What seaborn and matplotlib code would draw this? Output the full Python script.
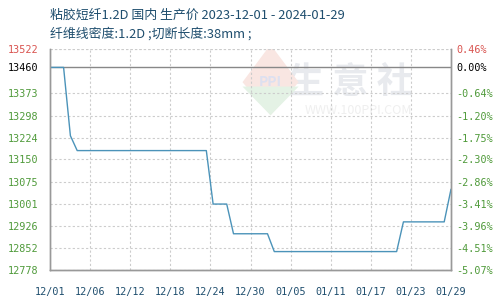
import matplotlib
matplotlib.use("Agg")
import matplotlib.pyplot as plt
import numpy as np
import pandas as pd
import seaborn as sns

# ---- data ----
dates = ["2023-12-01", "2023-12-03", "2023-12-04", "2023-12-05", "2023-12-24",
         "2023-12-25", "2023-12-27", "2023-12-28", "2024-01-02", "2024-01-03",
         "2024-01-21", "2024-01-22", "2024-01-28", "2024-01-29"]
prices = [13460, 13460, 13230, 13180, 13180,
          13000, 13000, 12900, 12900, 12840,
          12840, 12940, 12940, 13050]
base_price = 13460
y_ticks = [12778, 12852, 12926, 13001, 13075, 13150, 13224, 13298, 13373, 13460, 13522]
pct_labels = ["-5.07%", "-4.51%", "-3.96%", "-3.41%", "-2.86%", "-2.30%",
              "-1.75%", "-1.20%", "-0.64%", "0.00%", "0.46%"]
x_tick_labels = ["12/01", "12/06", "12/12", "12/18", "12/24", "12/30",
                 "01/05", "01/11", "01/17", "01/23", "01/29"]
title1 = "粘胶短纤1.2D 国内 生产价 2023-12-01 - 2024-01-29"
title2 = "纤维线密度:1.2D ;切断长度:38mm ;"

df = pd.DataFrame({"date": pd.to_datetime(dates), "price": prices})

sns.set_style("white")
plt.rcParams['font.family'] = ['Noto Sans CJK SC', 'DejaVu Sans']

fig = plt.figure(figsize=(5, 3), dpi=100)
ax = fig.add_axes([0.1, 0.1, 0.802, 0.7367])

start = pd.Timestamp("2023-12-01")
end = pd.Timestamp("2024-01-29")
ax.set_xlim(start, end)
ax.set_ylim(12778, 13522)

# watermark
ax.text(0.75, 0.85, "生 意 社", transform=ax.transAxes, fontsize=26,
        color="#e8eaee", ha="center", va="center", fontweight="bold", zorder=0)
ax.text(0.77, 0.72, "WWW.100PPI.COM", transform=ax.transAxes, fontsize=9,
        color="#efefef", ha="center", va="center", zorder=0)
diamond = plt.Polygon([[0.55, 1.02], [0.62, 0.85], [0.55, 0.70], [0.48, 0.85]],
                      closed=True, transform=ax.transAxes, color="#f9e6e2", zorder=0, lw=0)
ax.add_patch(diamond)
diamond2 = plt.Polygon([[0.48, 0.83], [0.62, 0.83], [0.55, 0.70]],
                       closed=True, transform=ax.transAxes, color="#e4f2e5", zorder=0, lw=0)
ax.add_patch(diamond2)
ax.text(0.55, 0.85, "PPI", transform=ax.transAxes, fontsize=10, color="#dde0f0",
        ha="center", va="center", fontweight="bold", zorder=0)

# grid
xt = [start + (end - start) * i / 10 for i in range(11)]
for x in xt[1:-1]:
    ax.axvline(x, color="#cccccc", lw=0.8, ls=(0, (2, 2)), zorder=1)
for y in y_ticks:
    if y == base_price:
        ax.axhline(y, color="#888888", lw=1.0, zorder=1)
    else:
        ax.axhline(y, color="#cccccc", lw=0.8, ls=(0, (2, 2)), zorder=1)

sns.lineplot(data=df, x="date", y="price", ax=ax, color="#4b93b9", lw=1.0, zorder=3)

ax.set_xticks(xt)
ax.set_xticklabels(x_tick_labels)
ax.set_yticks(y_ticks)
ax.set_yticklabels([str(v) for v in y_ticks])
ax.set_xlabel("")
ax.set_ylabel("")
mono = "DejaVu Sans Mono"
for lab in ax.get_xticklabels():
    lab.set_fontfamily(mono); lab.set_fontsize(7.3); lab.set_color("#1f4e6e")
for lab, v in zip(ax.get_yticklabels(), y_ticks):
    lab.set_fontfamily(mono); lab.set_fontsize(7.3)
    lab.set_color("#d9534f" if v == 13522 else ("#000000" if v == base_price else "#4f9a3a"))
ax.tick_params(axis="both", length=0, pad=8)
ax.tick_params(axis="x", pad=12)

ax2 = ax.twinx()
ax2.set_ylim(ax.get_ylim())
ax2.set_yticks(y_ticks)
ax2.set_yticklabels(pct_labels)
for lab, v in zip(ax2.get_yticklabels(), y_ticks):
    lab.set_fontfamily(mono); lab.set_fontsize(7.3)
    lab.set_color("#d9534f" if v == 13522 else ("#000000" if v == base_price else "#4f9a3a"))
ax2.tick_params(axis="y", length=0, pad=4)

for a in (ax, ax2):
    for s in ("left", "right", "bottom"):
        a.spines[s].set_color("#999999"); a.spines[s].set_linewidth(1.0)
    a.spines["top"].set_visible(False)
ax.axhline(13522, color="#cccccc", lw=0.8, ls=(0, (2, 2)), zorder=1)

fig.text(0.1, 0.95, title1, fontsize=9.3, color="#1f4e6e", va="center", ha="left")
fig.text(0.1, 0.887, title2, fontsize=9.3, color="#1f4e6e", va="center", ha="left")

fig.savefig("out.png", dpi=100)
